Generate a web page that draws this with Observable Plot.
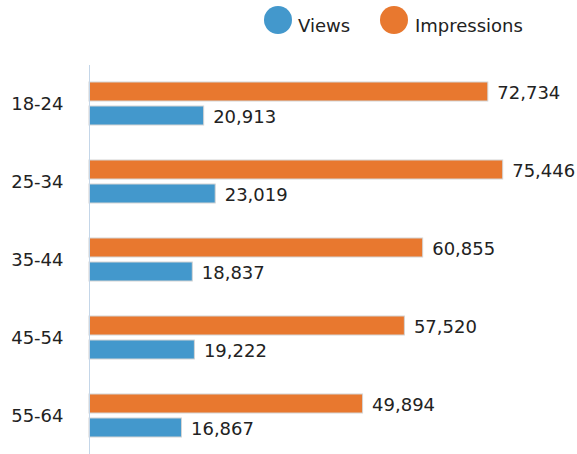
<!DOCTYPE html>
<html>
<head>
<meta charset="utf-8">
<script src="https://cdn.jsdelivr.net/npm/d3@7"></script>
<script src="https://cdn.jsdelivr.net/npm/@observablehq/plot@0.6"></script>
<style>
  body { margin: 0; background: #fff; font-family: "DejaVu Sans", Verdana, sans-serif; }
  #legend { height: 45px; position: relative; }
  .sw { position: absolute; top: 6px; width: 28px; height: 28px; border-radius: 50%; }
  .lt { position: absolute; top: 15px; font-size: 18px; line-height: 22px; color: #222; white-space: nowrap; }
</style>
</head>
<body>
<div id="legend"></div>
<div id="chart"></div>
<script>
const ages = ["18-24", "25-34", "35-44", "45-54", "55-64"];
const views = [20913, 23019, 18837, 19222, 16867];
const impressions = [72734, 75446, 60855, 57520, 49894];
const seriesNames = ["Views", "Impressions"];
const seriesColors = ["#4398cc", "#e8782f"];

const data = ages.map((a, i) => ({age: a, views: views[i], impressions: impressions[i]}));
const fmt = d3.format(",");

// legend
const legend = document.getElementById("legend");
const circleLefts = [264, 380];
const textLefts = [298, 415];
seriesNames.forEach((name, i) => {
  const c = document.createElement("span");
  c.className = "sw";
  c.style.left = circleLefts[i] + "px";
  c.style.background = seriesColors[i];
  legend.appendChild(c);
  const t = document.createElement("span");
  t.className = "lt";
  t.style.left = textLefts[i] + "px";
  t.textContent = name;
  legend.appendChild(t);
});

const chart = Plot.plot({
  width: 577,
  height: 409,
  marginLeft: 89,
  marginRight: 0,
  marginTop: 20,
  marginBottom: 0,
  style: {fontFamily: "DejaVu Sans, Verdana, sans-serif", fontSize: "18px", color: "#222", background: "#fff"},
  x: {domain: [0, 89000], axis: null},
  y: {domain: ages, paddingInner: 0.392, paddingOuter: 0.16, label: null, tickSize: 0, tickPadding: 26},
  marks: [
    Plot.barX(data, {y: "age", x: "impressions", fill: seriesColors[1], stroke: "#d4d4d4", strokeWidth: 1, insetTop: 2, insetBottom: 26}),
    Plot.barX(data, {y: "age", x: "views", fill: seriesColors[0], stroke: "#d4d4d4", strokeWidth: 1, insetTop: 26, insetBottom: 2}),
    Plot.text(data, {y: "age", x: "impressions", text: d => fmt(d.impressions), textAnchor: "start", dx: 9, dy: -11, fill: "#222"}),
    Plot.text(data, {y: "age", x: "views", text: d => fmt(d.views), textAnchor: "start", dx: 9, dy: 13, fill: "#222"}),
    Plot.ruleX([0], {stroke: "#c4d6e8", strokeWidth: 1})
  ]
});
document.getElementById("chart").appendChild(chart);
</script>
</body>
</html>
